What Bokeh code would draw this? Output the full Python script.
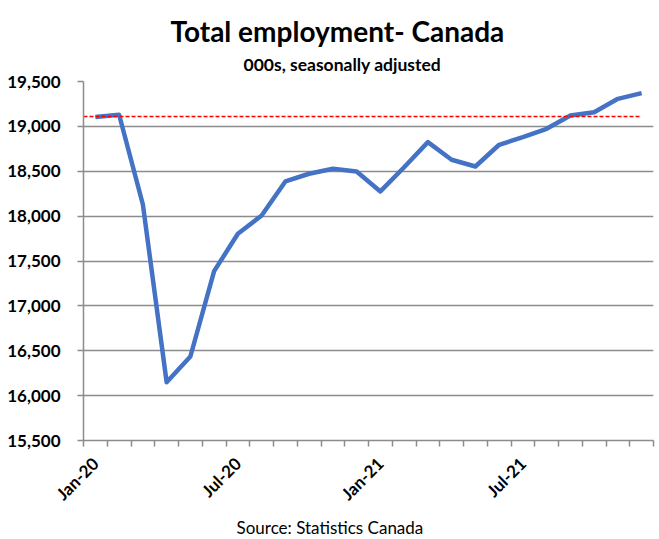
from math import pi
from bokeh.plotting import figure
from bokeh.models import FixedTicker, NumeralTickFormatter, Title, Range1d
from bokeh.embed import file_html
from bokeh.resources import INLINE

# ---- data ----
months = ["Jan-20", "Feb-20", "Mar-20", "Apr-20", "May-20", "Jun-20",
          "Jul-20", "Aug-20", "Sep-20", "Oct-20", "Nov-20", "Dec-20",
          "Jan-21", "Feb-21", "Mar-21", "Apr-21", "May-21", "Jun-21",
          "Jul-21", "Aug-21", "Sep-21", "Oct-21", "Nov-21", "Dec-21"]
employment = [19105, 19129, 18130, 16150, 16436, 17387,
              17803, 18007, 18386, 18472, 18527, 18497,
              18275, 18545, 18824, 18628, 18553, 18795,
              18880, 18973, 19121, 19158, 19307, 19370]
pre_pandemic_level = 19110
y_ticks = [15500, 16000, 16500, 17000, 17500, 18000, 18500, 19000, 19500]
labelled_months = ["Jan-20", "Jul-20", "Jan-21", "Jul-21"]

FONT = "Lato"
GRID = "#8c8c8c"

x = list(range(len(months)))

p = figure(width=659, height=539, output_backend="svg", toolbar_location=None,
           x_range=Range1d(-0.5, len(months) - 0.5),
           y_range=Range1d(y_ticks[0], y_ticks[-1]),
           min_border_left=83, min_border_top=81,
           min_border_right=6, min_border_bottom=99)
p.outline_line_color = None
p.background_fill_color = "white"

# titles
sub = Title(text="000s, seasonally adjusted", align="left", offset=160,
            text_font=FONT, text_font_style="bold", text_font_size="17.5px",
            text_color="black", standoff=13)
main = Title(text="Total employment- Canada", align="left", offset=87,
             text_font=FONT, text_font_style="bold", text_font_size="28px",
             text_color="black", standoff=-5)
p.add_layout(sub, "above")
p.add_layout(main, "above")
src = Title(text="Source: Statistics Canada", align="left", offset=153,
            text_font=FONT, text_font_style="normal", text_font_size="17px",
            text_color="black", standoff=1)
p.add_layout(src, "below")

# x axis
tick_pos = [months.index(m) for m in labelled_months]
xa = p.xaxis[0]
xa.ticker = FixedTicker(ticks=tick_pos, minor_ticks=[i - 0.5 for i in range(len(months) + 1)])
xa.major_label_overrides = {i: months[i] for i in tick_pos}
xa.major_label_orientation = pi / 4
xa.major_tick_out = 0
xa.major_tick_in = 0
xa.minor_tick_out = 6
xa.minor_tick_in = 0
xa.minor_tick_line_color = GRID
xa.minor_tick_line_width = 1.5
xa.axis_line_color = GRID
xa.axis_line_width = 1.5
xa.major_label_text_font = FONT
xa.major_label_text_font_style = "bold"
xa.major_label_text_font_size = "17px"
xa.major_label_text_color = "black"
xa.major_label_standoff = 14

# y axis
ya = p.yaxis[0]
ya.ticker = FixedTicker(ticks=y_ticks)
ya.formatter = NumeralTickFormatter(format="0,0")
ya.major_tick_out = 6
ya.major_tick_in = 0
ya.minor_tick_line_color = None
ya.major_tick_line_color = GRID
ya.major_tick_line_width = 1.5
ya.axis_line_color = GRID
ya.axis_line_width = 1.5
ya.major_label_text_font = FONT
ya.major_label_text_font_style = "bold"
ya.major_label_text_font_size = "17px"
ya.major_label_text_color = "black"
ya.major_label_standoff = 17

p.xgrid.grid_line_color = None
p.ygrid.ticker = FixedTicker(ticks=y_ticks)
p.ygrid.grid_line_color = GRID
p.ygrid.grid_line_width = 1.5

# series
p.line(x, employment, line_color="#4472C4", line_width=4.5, line_join="round")
p.line([x[0] - 0.5, x[-1]], [pre_pandemic_level, pre_pandemic_level],
       line_color="red", line_width=1.5, line_dash="4 2")

open("out.html", "w").write(file_html(p, INLINE))
